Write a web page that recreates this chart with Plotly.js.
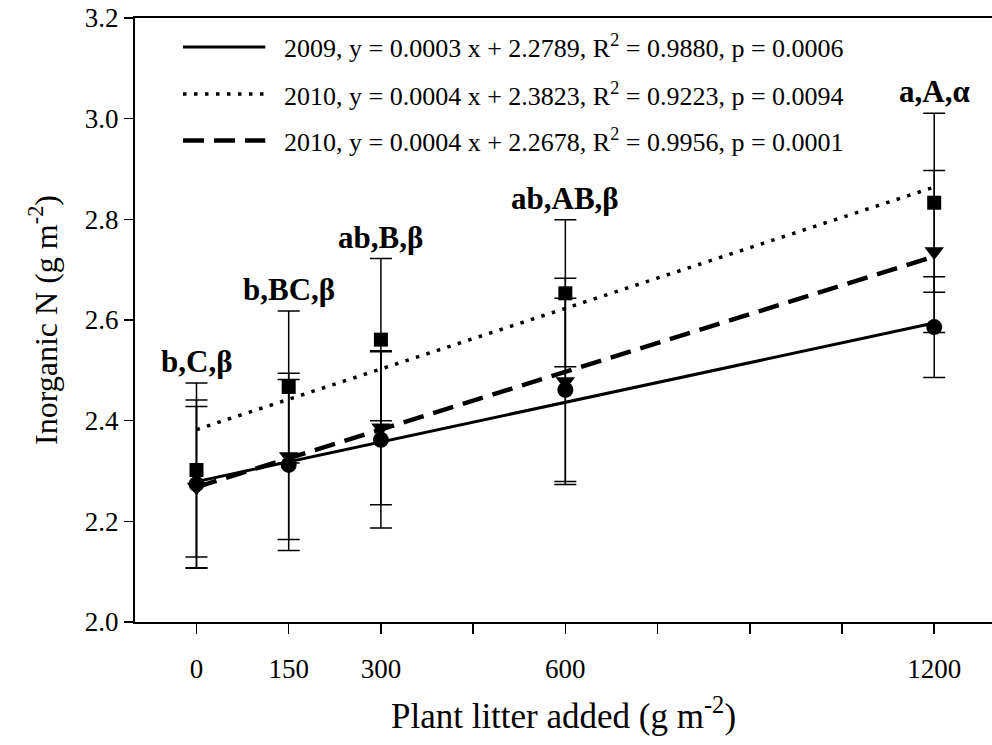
<!DOCTYPE html>
<html>
<head>
<meta charset="utf-8">
<script src="https://cdn.plot.ly/plotly-3.0.1.min.js"></script>
<style>html,body{margin:0;padding:0;background:#fff;}</style>
</head>
<body>
<div id="chart" style="width:992px;height:745px;"></div>
<script>
// ---- data ----
var litter = [0, 150, 300, 600, 1200];

var n2009 = [2.274, 2.312, 2.362, 2.461, 2.586];
var n2009Err = [0.167, 0.170, 0.175, 0.182, 0.100];

var n2010a = [2.302, 2.467, 2.561, 2.653, 2.833];
var n2010aErr = [0.173, 0.151, 0.161, 0.146, 0.178];

var n2010b = [2.268, 2.329, 2.386, 2.478, 2.736];
var n2010bErr = [0.160, 0.165, 0.153, 0.205, 0.161];

// regression lines (endpoints at x = 0 and x = 1200)
var fitX = [0, 1200];
var fit2009 = [2.2789, 2.594];
var fit2010a = [2.3823, 2.864];
var fit2010b = [2.2678, 2.726];

var seriesNames = [
  '2009, y = 0.0003 x + 2.2789, R<sup>2</sup> = 0.9880, p = 0.0006',
  '2010, y = 0.0004 x + 2.3823, R<sup>2</sup> = 0.9223, p = 0.0094',
  '2010, y = 0.0004 x + 2.2678, R<sup>2</sup> = 0.9956, p = 0.0001'
];

var letters = ['b,C,β', 'b,BC,β', 'ab,B,β', 'ab,AB,β', 'a,A,α'];

var tickVals = [0, 150, 300, 600, 1200];
var tickLabels = ['0', '150', '300', '600', '1200'];

// ---- styles ----
var FONT = 'Liberation Serif, Times New Roman, serif';
var lineStyles = [
  {color: '#000', width: 3, dash: 'solid'},
  {color: '#000', width: 3.5, dash: '3.5px,7.5px'},
  {color: '#000', width: 4.5, dash: '21px,10px'}
];

function errBar(arr) {
  return {type: 'data', array: arr, visible: true, color: '#000', thickness: 1.5, width: 11};
}

var traces = [
  {x: fitX, y: fit2009, mode: 'lines', line: lineStyles[0], showlegend: false, hoverinfo: 'skip'},
  {x: fitX, y: fit2010a, mode: 'lines', line: lineStyles[1], showlegend: false, hoverinfo: 'skip'},
  {x: fitX, y: fit2010b, mode: 'lines', line: lineStyles[2], showlegend: false, hoverinfo: 'skip'},
  {x: litter, y: n2010b, mode: 'markers', error_y: errBar(n2010bErr),
   marker: {symbol: 'triangle-down', size: 17, color: '#000'}, showlegend: false},
  {x: litter, y: n2010a, mode: 'markers', error_y: errBar(n2010aErr),
   marker: {symbol: 'square', size: 14, color: '#000'}, showlegend: false},
  {x: litter, y: n2009, mode: 'markers', error_y: errBar(n2009Err),
   marker: {symbol: 'circle', size: 16, color: '#000'}, showlegend: false}
];

// letter annotations above highest error bar
var annotations = [];
for (var i = 0; i < litter.length; i++) {
  var highest = Math.max(n2009[i] + n2009Err[i], n2010a[i] + n2010aErr[i], n2010b[i] + n2010bErr[i]);
  annotations.push({
    x: litter[i], y: highest, xref: 'x', yref: 'y', text: '<b>' + letters[i] + '</b>',
    showarrow: false, yanchor: 'bottom', xanchor: 'center', yshift: 2,
    font: {family: FONT, size: 31, color: '#000'}
  });
}

// manual legend
var legendY = [0.952, 0.874, 0.797];
var shapes = [];
for (var k = 0; k < seriesNames.length; k++) {
  shapes.push({
    type: 'line', xref: 'paper', yref: 'paper',
    x0: 0.056, x1: 0.152, y0: legendY[k], y1: legendY[k],
    line: {color: lineStyles[k].color, width: lineStyles[k].width, dash: lineStyles[k].dash}
  });
  annotations.push({
    xref: 'paper', yref: 'paper', x: 0.172, y: legendY[k],
    xanchor: 'left', yanchor: 'middle', showarrow: false,
    text: seriesNames[k], font: {family: FONT, size: 26, color: '#000'}
  });
}

var layout = {
  width: 992, height: 745,
  margin: {l: 135, r: 0, t: 18, b: 123},
  paper_bgcolor: '#fff', plot_bgcolor: '#fff',
  font: {family: FONT, color: '#000'},
  showlegend: false,
  xaxis: {
    range: [-100, 1294], tickmode: 'array', tickvals: tickVals, ticktext: tickLabels,
    ticks: 'outside', ticklen: 10, tickwidth: 1.5, tickcolor: '#000',
    minor: {tick0: 0, dtick: 150, ticks: 'outside', ticklen: 10, tickwidth: 1.5, tickcolor: '#000', showgrid: false},
    showline: true, linecolor: '#000', linewidth: 2, mirror: true,
    showgrid: false, zeroline: false,
    tickfont: {family: FONT, size: 27, color: '#000'},
    ticklabelstandoff: 12,
    title: {text: 'Plant litter added (g m<sup>-2</sup>)', font: {family: FONT, size: 35, color: '#000'}, standoff: 20}
  },
  yaxis: {
    range: [2.0, 3.2], dtick: 0.2, tick0: 2.0, tickformat: '.1f',
    ticks: 'outside', ticklen: 9, tickwidth: 1.5, tickcolor: '#000',
    showline: true, linecolor: '#000', linewidth: 2,
    showgrid: false, zeroline: false,
    tickfont: {family: FONT, size: 27, color: '#000'},
    title: {text: 'Inorganic N (g m<sup>-2</sup>)', font: {family: FONT, size: 32, color: '#000'}, standoff: 18}
  },
  shapes: shapes,
  annotations: annotations
};

Plotly.newPlot('chart', traces, layout, {displayModeBar: false, staticPlot: true});
</script>
</body>
</html>
